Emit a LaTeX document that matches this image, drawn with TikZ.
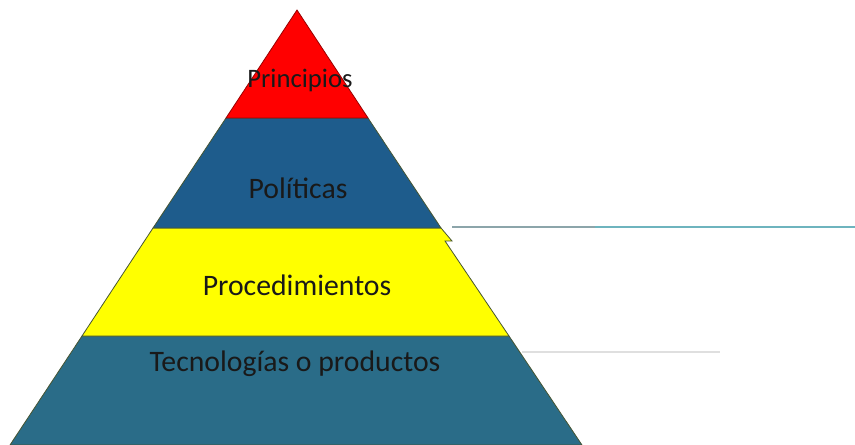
\documentclass[tikz,border=0pt]{standalone}
\usepackage{fontspec}
\setmainfont{Carlito}
\usepackage{xcolor}
\usepackage{tikz}
\usetikzlibrary{calc}

\definecolor{capaRoja}{RGB}{255,0,0}
\definecolor{capaAzul}{RGB}{30,92,140}
\definecolor{capaAmarilla}{RGB}{255,255,0}
\definecolor{capaTeal}{RGB}{42,108,136}
\definecolor{borde}{RGB}{70,85,50}
\definecolor{lineaTeal}{RGB}{110,180,190}
\definecolor{lineaGris}{RGB}{140,165,170}

\begin{document}
\begin{tikzpicture}[x=0.75pt,y=-0.75pt,
  capa/.style={draw=borde,line width=0.6pt,line join=miter},
  texto/.style={font=\fontsize{22.3}{25}\selectfont,text=black!90}]

\useasboundingbox (0,0) rectangle (855,445);

\fill[capaTeal,capa] (82,336) -- (509,336) -- (582,445) -- (10,445) -- cycle;		% Tecnologias
\fill[capaAmarilla,capa] (153,228) -- (441,228) -- (452,241) -- (445,241) -- (509,336) -- (82,336) -- cycle;	% Procedimientos
\fill[capaAzul,capa] (226,118) -- (368,118) -- (441,228) -- (153,228) -- cycle;	% Politicas
\fill[capaRoja,draw=red!60!black,line width=0.6pt] (297,10) -- (368,118) -- (226,118) -- cycle;	% Principios

\node[texto,font=\fontsize{20}{24}\selectfont] (principios) at (300,80) {Principios};
\node[texto] (politicas) at (298,188) {Políticas};
\node[texto] (procedimientos) at (297,285) {Procedimientos};
\node[texto] (tecnologias) at (295,364) {Tecnologías o productos};

\coordinate (lineaA) at (452,227);
\coordinate (lineaM) at (595,227);
\coordinate (lineaB) at (855,227);
\draw[lineaGris,line width=2pt] (lineaA) -- (lineaM);			% Linie oben, grau
\draw[lineaTeal,line width=2pt] (lineaM) -- (lineaB);			% Linie oben

\coordinate (lineaC) at (522,352);
\coordinate (lineaD) at (720,352);
\draw[gray!25,line width=0.8pt] (lineaC) -- (lineaD);			% Linie unten

\end{tikzpicture}
\end{document}
